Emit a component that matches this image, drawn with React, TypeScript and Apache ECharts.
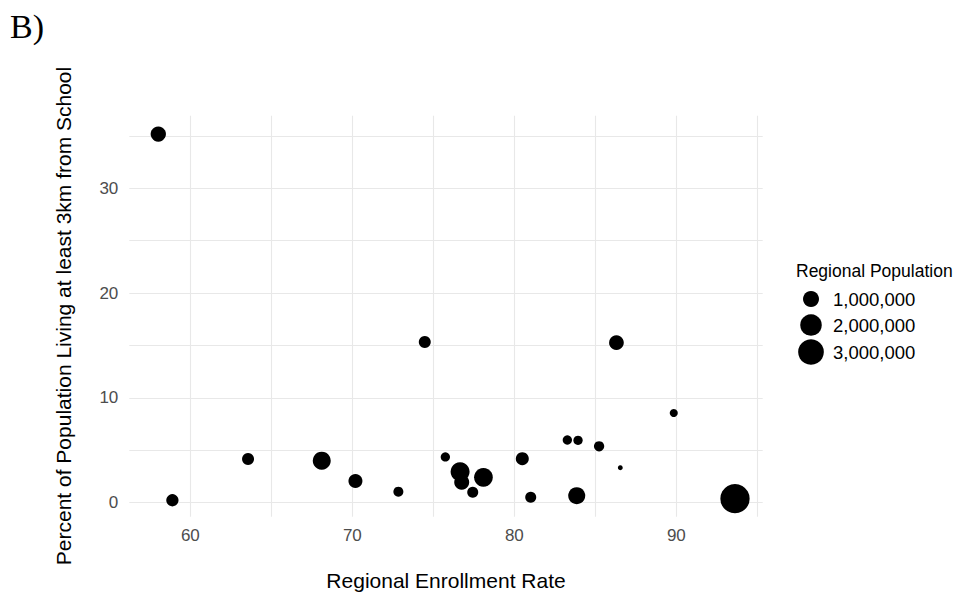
import React, { useEffect, useRef } from "react";
import * as echarts from "echarts";

// Data
const enrollmentRate = [58.02, 58.89, 63.56, 68.11, 70.19, 72.84, 74.47, 75.74, 76.65, 76.75, 77.43, 78.09, 80.49, 81.01, 83.27, 83.93, 83.85, 85.23, 86.3, 86.54, 89.84, 93.62];
const pctFar3km = [35.18, 0.23, 4.17, 4.01, 2.07, 1.05, 15.33, 4.36, 2.96, 1.95, 0.99, 2.42, 4.2, 0.52, 5.98, 5.95, 0.67, 5.38, 15.27, 3.34, 8.56, 0.38];
const population = [900000, 556000, 528000, 1313000, 739000, 370000, 528000, 326000, 1490000, 863000, 443000, 1436000, 627000, 443000, 326000, 326000, 1151000, 390000, 824000, 200000, 263000, 4050000];

const xTicks = [60, 70, 80, 90];
const yTicks = [0, 10, 20, 30];
const xGrid = [60, 65, 70, 75, 80, 85, 90, 95];
const yGrid = [0, 5, 10, 15, 20, 25, 30, 35];
const legendValues = [1000000, 2000000, 3000000];
const legendLabels = ["1,000,000", "2,000,000", "3,000,000"];

const POP_MIN = 200000;
const POP_MAX = 4050000;
const sizeOf = (p: number) => {
  const r = Math.max(0, Math.min(1, (p - POP_MIN) / (POP_MAX - POP_MIN)));
  return 4.88 * (1 + 5 * Math.sqrt(r));
};

const FONT = "Liberation Sans, Arial, sans-serif";

export default function App() {
  const ref = useRef<HTMLDivElement>(null);
  useEffect(() => {
    if (!ref.current) return;
    const chart = echarts.init(ref.current, undefined, { renderer: "svg" });
    const data = enrollmentRate.map((x, i) => [x, pctFar3km[i], population[i]]);
    const gridLine = (v: number, axis: "xAxis" | "yAxis") => ({
      [axis]: v,
      lineStyle: { color: "#e8e8e8", width: 1.1, type: "solid" },
    });
    const legendY = [299, 325, 352];
    chart.setOption({
      animation: false,
      backgroundColor: "#ffffff",
      grid: { left: 129.3, top: 115.7, width: 633.4, height: 401, containLabel: false },
      xAxis: {
        type: "value",
        min: 56.23,
        max: 95.33,
        axisLine: { show: false },
        axisTick: { show: false },
        splitLine: { show: false },
        axisLabel: {
          customValues: xTicks,
          color: "#4d4d4d",
          fontSize: 17,
          fontFamily: FONT,
          margin: 10,
        },
      },
      yAxis: {
        type: "value",
        min: -1.34,
        max: 36.93,
        axisLine: { show: false },
        axisTick: { show: false },
        splitLine: { show: false },
        axisLabel: {
          customValues: yTicks,
          color: "#4d4d4d",
          fontSize: 17,
          fontFamily: FONT,
          margin: 11,
        },
      },
      series: [
        {
          type: "scatter",
          data: [],
          silent: true,
          z: 1,
          markLine: {
            silent: true,
            symbol: "none",
            label: { show: false },
            animation: false,
            data: [
              ...xGrid.map((v) => gridLine(v, "xAxis")),
              ...yGrid.map((v) => gridLine(v, "yAxis")),
            ],
          },
        },
        {
          type: "scatter",
          z: 5,
          data,
          symbol: "circle",
          symbolSize: (val: number[]) => sizeOf(val[2]),
          itemStyle: { color: "#000000", opacity: 1 },
        },
      ],
      graphic: [
        {
          type: "text",
          left: 10,
          top: 9,
          style: { text: "B)", font: "34px 'Liberation Serif', 'Times New Roman', serif", fill: "#000" },
        },
        {
          type: "text",
          x: 446,
          y: 580,
          style: {
            text: "Regional Enrollment Rate",
            font: `21px ${FONT}`,
            fill: "#000",
            align: "center",
            verticalAlign: "middle",
          },
        },
        {
          type: "text",
          x: 63,
          y: 316,
          rotation: Math.PI / 2,
          style: {
            text: "Percent of Population Living at least 3km from School",
            font: `21px ${FONT}`,
            fill: "#000",
            align: "center",
            verticalAlign: "middle",
          },
        },
        {
          type: "text",
          x: 796,
          y: 271,
          style: {
            text: "Regional Population",
            font: `17.5px ${FONT}`,
            fill: "#000",
            align: "left",
            verticalAlign: "middle",
          },
        },
        ...legendValues.map((v, i) => ({
          type: "circle",
          shape: { cx: 811, cy: legendY[i], r: sizeOf(v) / 2 },
          style: { fill: "#000" },
        })),
        ...legendLabels.map((t, i) => ({
          type: "text",
          x: 833,
          y: legendY[i],
          style: {
            text: t,
            font: `18.5px ${FONT}`,
            fill: "#000",
            align: "left",
            verticalAlign: "middle",
          },
        })),
      ],
    });
    return () => chart.dispose();
  }, []);
  return (
    <div
      ref={ref}
      style={{ position: "fixed", left: 0, top: 0, width: 957, height: 593, background: "#fff" }}
    />
  );
}
